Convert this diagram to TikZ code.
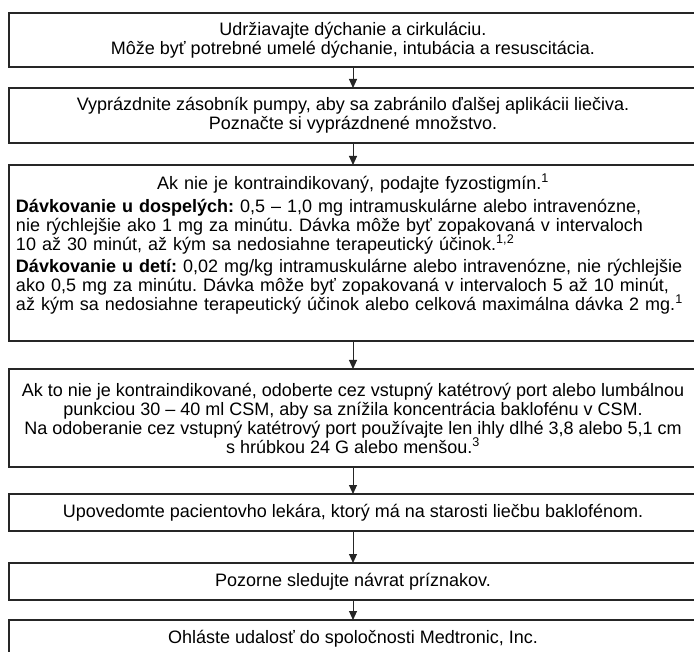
\documentclass[tikz,border=0pt]{standalone}
\usepackage{fontspec}
\setmainfont{Liberation Sans}
\usetikzlibrary{arrows.meta}
\newcommand{\boxfont}{\fontsize{18}{19}\selectfont\frenchspacing}
\begin{document}
\begin{tikzpicture}[x=1pt,y=-1pt,
  stepbox/.style={draw=black!85, line width=1.3pt, minimum width=688pt,
    inner sep=0pt, outer sep=0pt, align=center, font=\boxfont},
  flow/.style={draw=black!85, line width=1pt,
    -{Triangle[length=9pt,width=8pt]}}]
\useasboundingbox (0,0) rectangle (694,652);
\clip (0,0) rectangle (694,652);

\node[stepbox, minimum height=54pt] (b1) at (353,40)
  {Udržiavajte dýchanie a cirkuláciu.\\
   Môže byť potrebné umelé dýchanie, intubácia a resuscitácia.};

\node[stepbox, minimum height=55pt] (b2) at (353,115.5)
  {Vyprázdnite zásobník pumpy, aby sa zabránilo ďalšej aplikácii liečiva.\\
   Poznačte si vyprázdnené množstvo.};

% dosing box: frame and text block set separately
\node[stepbox, minimum height=176pt] (b3) at (353,253) {};
\node[font=\boxfont, inner sep=0pt, text width=674pt, align=left] (b3text) at (353,244)
  {\makebox[674pt][c]{Ak nie je kontraindikovaný, podajte fyzostigmín.\textsuperscript{1}}\\[4pt]
   \textbf{Dávkovanie u dospelých:} 0,5 – 1,0 mg intramuskulárne alebo intravenózne,\\
   nie rýchlejšie ako 1 mg za minútu. Dávka môže byť zopakovaná v intervaloch\\
   10 až 30 minút, až kým sa nedosiahne terapeutický účinok.\textsuperscript{1,2}\\[3pt]
   \makebox[674pt][s]{\textbf{Dávkovanie u detí:} 0,02 mg/kg intramuskulárne alebo intravenózne, nie rýchlejšie}\\
   ako 0,5 mg za minútu. Dávka môže byť zopakovaná v intervaloch 5 až 10 minút,\\
   až kým sa nedosiahne terapeutický účinok alebo celková maximálna dávka 2 mg.\textsuperscript{1}};

\node[stepbox, minimum height=98pt] (b4) at (353,418)
  {Ak to nie je kontraindikované, odoberte cez vstupný katétrový port alebo lumbálnou\\
   punkciou 30 – 40 ml CSM, aby sa znížila koncentrácia baklofénu v CSM.\\
   Na odoberanie cez vstupný katétrový port používajte len ihly dlhé 3,8 alebo 5,1 cm\\
   s hrúbkou 24 G alebo menšou.\textsuperscript{3}};

\node[stepbox, minimum height=37pt] (b5) at (353,512.5)
  {Upovedomte pacientovho lekára, ktorý má na starosti liečbu baklofénom.};

\node[stepbox, minimum height=37pt] (b6) at (353,581.5)
  {Pozorne sledujte návrat príznakov.};

\node[stepbox, minimum height=37pt] (b7) at (353,638.5)
  {Ohláste udalosť do spoločnosti Medtronic, Inc.};

\draw[flow] (b1) -- (b2);
\draw[flow] (b2) -- (b3);
\draw[flow] (b3) -- (b4);
\draw[flow] (b4) -- (b5);
\draw[flow] (b5) -- (b6);
\draw[flow] (b6) -- (b7);
\end{tikzpicture}
\end{document}
